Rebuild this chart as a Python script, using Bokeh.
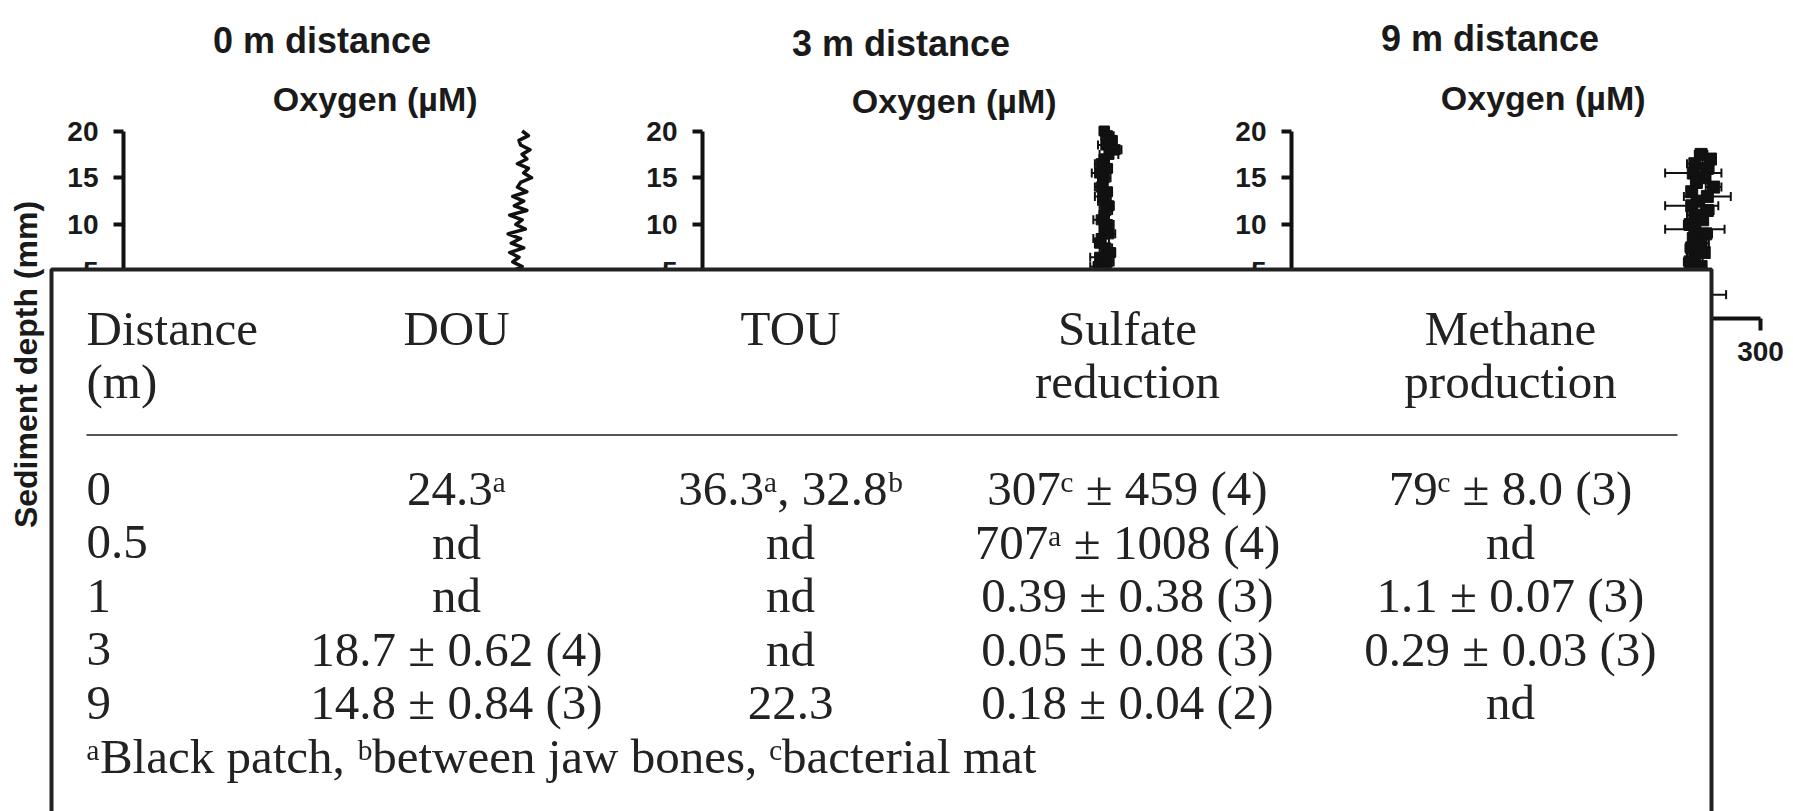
import math

from bokeh.plotting import figure
from bokeh.models import Range1d, LinearAxis, FixedTicker, ColumnDataSource, Whisker, TeeHead
from bokeh.core.properties import value
from bokeh.embed import file_html
from bokeh.resources import INLINE

# ---------------------------------------------------------------- data
panel_titles = ["0 m distance", "3 m distance", "9 m distance"]
x_axis_label = "Oxygen (µM)"
y_axis_label = "Sediment depth (mm)"
depth_ticks = [20, 15, 10, 5, 0, -5, -10, -15, -20, -25, -30, -35, -40, -45, -50]
oxygen_ticks = [0, 100, 200, 300]

# 0 m: single profile (line)
depth_0m = [20.0, 19.5, 19.0, 18.5, 18.0, 17.5, 17.0, 16.5, 16.0, 15.5, 15.0, 14.5,
            14.0, 13.5, 13.0, 12.5, 12.0, 11.5, 11.0, 10.5, 10.0, 9.5, 9.0, 8.5,
            8.0, 7.5, 7.0, 6.5, 6.0, 5.5, 5.0, 4.5, 4.0, 3.5, 3.0, 2.5, 2.0]
oxygen_0m = [255, 259, 253, 254, 260, 255, 258, 252, 259, 256, 261, 254,
             252, 258, 249, 256, 250, 258, 247, 255, 251, 257, 246, 254,
             248, 256, 247, 253, 249, 255, 248, 254, 250, 253, 251, 254, 252]

# 3 m: mean ± SD
depth_3m = [20.0, 19.5, 19.0, 18.5, 18.0, 17.5, 17.0, 16.5, 16.0, 15.5, 15.0, 14.5,
            14.0, 13.5, 13.0, 12.5, 12.0, 11.5, 11.0, 10.5, 10.0, 9.5, 9.0, 8.5,
            8.0, 7.5, 7.0, 6.5, 6.0, 5.5, 5.0, 4.5, 4.0, 3.5, 3.0, 2.5, 2.0]
oxygen_3m = [257, 259, 262, 258, 264, 260, 257, 255, 259, 254, 257, 256,
             255, 259, 256, 257, 260, 258, 257, 255, 259, 257, 260, 255,
             254, 258, 261, 254, 259, 253, 258, 255, 257, 254, 256, 255, 256]
sd_3m = [3, 4, 3, 5, 4, 6, 3, 4, 3, 5, 4, 3,
         4, 3, 5, 4, 3, 4, 3, 5, 4, 3, 4, 5,
         3, 4, 3, 6, 4, 5, 3, 4, 3, 4, 3, 4, 3]

# 9 m: mean ± SD
depth_9m = [17.5, 17.0, 16.5, 16.0, 15.5, 15.0, 14.5, 14.0, 13.5, 13.0, 12.5, 12.0,
            11.5, 11.0, 10.5, 10.0, 9.5, 9.0, 8.5, 8.0, 7.5, 7.0, 6.5, 6.0,
            5.5, 5.0, 4.5, 4.0, 3.5, 3.0, 2.5, 2.0, 1.5, 1.0, 0.5, 0.0]
oxygen_9m = [262, 268, 258, 266, 257, 264, 259, 270, 256, 266, 260, 256,
             266, 258, 263, 255, 258, 265, 257, 262, 256, 264, 258, 255,
             262, 257, 262, 259, 256, 262, 259, 255, 259, 256, 258, 257]
sd_9m = [4, 3, 5, 4, 18, 4, 3, 5, 3, 15, 4, 17,
         4, 5, 3, 4, 19, 4, 3, 5, 4, 3, 5, 4,
         3, 4, 3, 4, 4, 3, 19, 4, 3, 4, 3, 4]

# rate table
header_line1 = ["Distance", "DOU", "TOU", "Sulfate", "Methane"]
header_line2 = ["(m)", "", "", "reduction", "production"]
distance_m = ["0", "0.5", "1", "3", "9"]
dou = ["24.3ᵃ", "nd", "nd", "18.7 ± 0.62 (4)", "14.8 ± 0.84 (3)"]
tou = ["36.3ᵃ, 32.8ᵇ", "nd", "nd", "nd", "22.3"]
sulfate_reduction = ["307ᶜ ± 459 (4)", "707ᵃ ± 1008 (4)", "0.39 ± 0.38 (3)",
                     "0.05 ± 0.08 (3)", "0.18 ± 0.04 (2)"]
methane_production = ["79ᶜ ± 8.0 (3)", "nd", "1.1 ± 0.07 (3)", "0.29 ± 0.03 (3)", "nd"]
footnote = "ᵃBlack patch, ᵇbetween jaw bones, ᶜbacterial mat"

# ---------------------------------------------------------------- layout
W, H = 1793, 811
Y_DEPTH20 = 130.5          # screen row of the 20 mm tick
PX_PER_MM = 9.35
PX_PER_UM = 469 / 300
AXIS_X = [123, 702, 1291]  # screen column of each panel's depth axis
TITLE_UM = 127
TITLE_Y = [40, 43, 38]
OXY_UM = 161
OXY_Y = [98, 100, 97]

TABLE_LEFT, TABLE_RIGHT, TABLE_TOP = 51, 1711, 269
COL_X = [86, 456, 790, 1127, 1510]
COL_ALIGN = ["left", "center", "center", "center", "center"]
RULE_X = (86, 1677)
ROW0_Y, ROW_PITCH = 488, 53.5

SANS = "Liberation Sans"
SERIF = "Liberation Serif"
INK = "#111111"
TABLE_INK = "#222222"

p = figure(width=W, height=H, output_backend="svg", toolbar_location=None,
           x_range=Range1d(0, W), y_range=Range1d(H, 0),
           x_axis_type=None, y_axis_type=None, min_border=0)
p.outline_line_color = None
p.background_fill_color = "white"
p.border_fill_color = "white"
p.title.visible = False

p.extra_y_ranges = {
    "depth": Range1d(20 - (H - Y_DEPTH20) / PX_PER_MM, 20 + Y_DEPTH20 / PX_PER_MM),
    "rows": Range1d((H - ROW0_Y) / ROW_PITCH, -ROW0_Y / ROW_PITCH),
}
p.extra_x_ranges = {
    f"o{k}": Range1d(-ax / PX_PER_UM, (W - ax) / PX_PER_UM) for k, ax in enumerate(AXIS_X)
}


def style_axis(ax, size):
    ax.axis_line_width = 4
    ax.axis_line_color = INK
    ax.major_tick_line_width = 4
    ax.major_tick_line_color = INK
    ax.major_tick_in = 0
    ax.major_tick_out = 10
    ax.minor_tick_line_color = None
    ax.major_label_text_font = SANS
    ax.major_label_text_font_style = "bold"
    ax.major_label_text_font_size = size
    ax.major_label_text_color = "#1a1a1a"


# ---------------------------------------------------------------- profile panels
for k in range(3):
    xr = f"o{k}"
    yax = LinearAxis(x_range_name=xr, y_range_name="depth", fixed_location=0,
                     bounds=(-50, 20), ticker=FixedTicker(ticks=depth_ticks))
    style_axis(yax, "28px")
    yax.major_label_standoff = 15
    p.add_layout(yax, "left")

    xax = LinearAxis(x_range_name=xr, y_range_name="depth", fixed_location=0,
                     bounds=(0, 300), ticker=FixedTicker(ticks=oxygen_ticks))
    style_axis(xax, "28px")
    xax.major_tick_out = 12
    xax.major_label_standoff = 12
    p.add_layout(xax, "below")

    p.text(x=[TITLE_UM], y=[TITLE_Y[k]], text=[panel_titles[k]], x_range_name=xr,
           text_font=value(SANS), text_font_style="bold", text_font_size="36px",
           text_align="center", text_baseline="alphabetic", text_color="#1a1a1a")
    p.text(x=[OXY_UM], y=[OXY_Y[k]], text=[x_axis_label], x_range_name=xr,
           text_font=value(SANS), text_font_style="bold", text_font_size="34px",
           text_align="center", text_baseline="alphabetic", text_color="#1a1a1a")

p.text(x=[25], y=[364], text=[y_axis_label], angle=math.pi / 2,
       text_font=value(SANS), text_font_style="bold", text_font_size="32px",
       text_align="center", text_baseline="middle", text_color="#1a1a1a")

# 0 m profile
p.line(x=oxygen_0m, y=depth_0m, x_range_name="o0", y_range_name="depth",
       line_color=INK, line_width=3.5, line_join="round")

# 3 m and 9 m profiles with error bars
for xr, dep, oxy, sd, msize in (("o1", depth_3m, oxygen_3m, sd_3m, 10),
                                ("o2", depth_9m, oxygen_9m, sd_9m, 12)):
    src = ColumnDataSource(dict(depth=dep, oxygen=oxy,
                                lo=[o - s for o, s in zip(oxy, sd)],
                                hi=[o + s for o, s in zip(oxy, sd)]))
    p.add_layout(Whisker(source=src, base="depth", lower="lo", upper="hi",
                         dimension="width", x_range_name=xr, y_range_name="depth",
                         line_color=INK, line_width=2,
                         lower_head=TeeHead(size=9, line_width=2, line_color=INK),
                         upper_head=TeeHead(size=9, line_width=2, line_color=INK)))
    p.scatter(x="oxygen", y="depth", source=src, x_range_name=xr, y_range_name="depth",
              marker="square", size=msize, fill_color=INK, line_color=INK)

# ---------------------------------------------------------------- table overlay
p.quad(left=[TABLE_LEFT], right=[TABLE_RIGHT], top=[TABLE_TOP], bottom=[H + 30],
       fill_color="white", line_color="#222222", line_width=4, level="overlay")
p.segment(x0=[RULE_X[0]], x1=[RULE_X[1]], y0=[-1], y1=[-1], y_range_name="rows",
          line_color="#555555", line_width=2, level="overlay")

columns = [distance_m, dou, tou, sulfate_reduction, methane_production]
for ci, vals in enumerate(columns):
    texts = [header_line1[ci], header_line2[ci]] + vals
    rows = [-3, -2] + list(range(len(vals)))
    p.text(x=[COL_X[ci]] * len(texts), y=rows, text=texts, y_range_name="rows",
           text_font=value(SERIF), text_font_size="49px", text_color=TABLE_INK,
           text_align=COL_ALIGN[ci], text_baseline="middle", level="overlay")

p.text(x=[COL_X[0]], y=[len(distance_m)], text=[footnote], y_range_name="rows",
       text_font=value(SERIF), text_font_size="49px", text_color=TABLE_INK,
       text_align="left", text_baseline="middle", level="overlay")

with open("out.html", "w", encoding="utf-8") as f:
    f.write(file_html(p, INLINE))
